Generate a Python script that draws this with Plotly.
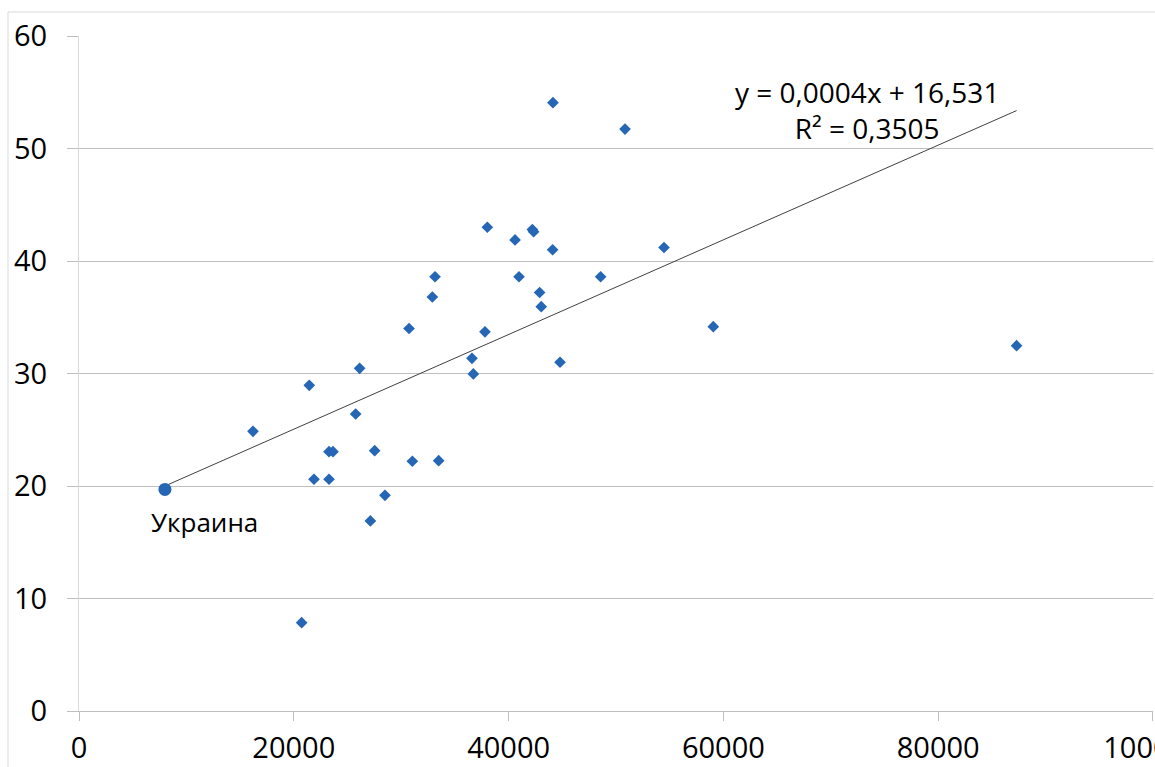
import plotly.graph_objects as go

# Data
countries_x = [16200, 21440, 21880, 23280, 23280, 23650, 20730, 25760, 26130, 27530,
               27130, 28490, 30730, 31040, 32900, 33150, 33490, 36590, 36720, 37800,
               38020, 40600, 40970, 42210, 42330, 42890, 43040, 44100, 44130, 44790,
               48570, 50840, 54470, 59060, 87300]
countries_y = [24.86, 28.95, 20.6, 20.6, 23.05, 23.05, 7.85, 26.4, 30.46, 23.14,
               16.9, 19.17, 34.0, 22.2, 36.8, 38.6, 22.25, 31.35, 29.96, 33.7,
               43.0, 41.87, 38.6, 42.8, 42.6, 37.2, 35.94, 41.0, 54.07, 31.0,
               38.6, 51.73, 41.2, 34.16, 32.47]
ukraine_x = [8000]
ukraine_y = [19.7]
ukraine_label = "Украина"
trend_x = [8000, 87300]
trend_y = [20.0, 53.37]
trend_text = "y = 0,0004x + 16,531<br>R² = 0,3505"
x_ticks = [0, 20000, 40000, 60000, 80000, 100000]
y_ticks = [0, 10, 20, 30, 40, 50, 60]

FONT = "Open Sans"
BLUE = "#2566b5"
GRID = "#bfbfbf"

fig = go.Figure()
fig.add_trace(go.Scatter(x=trend_x, y=trend_y, mode="lines",
                         line=dict(color="#404040", width=1), hoverinfo="skip"))
fig.add_trace(go.Scatter(x=countries_x, y=countries_y, mode="markers",
                         marker=dict(symbol="diamond", size=9, color=BLUE)))
fig.add_trace(go.Scatter(x=ukraine_x, y=ukraine_y, mode="markers",
                         marker=dict(symbol="circle", size=13, color=BLUE)))

fig.add_annotation(x=ukraine_x[0] + 3640, y=ukraine_y[0] - 2.9, text=ukraine_label,
                   showarrow=False, xanchor="center", yanchor="middle",
                   font=dict(family=FONT, size=26, color="#000000"))
fig.add_annotation(x=73370, y=53.4, text=trend_text, showarrow=False,
                   xanchor="center", yanchor="middle", align="center",
                   font=dict(family=FONT, size=28, color="#000000"))

# outer chart border (left and top edges visible in the crop)
fig.add_shape(type="path", xref="paper", yref="paper",
              path="M -0.0661 -0.2 L -0.0661 1.0356 L 1.05 1.0356",
              line=dict(color="#d9d9d9", width=1), layer="below")

fig.update_layout(
    width=1155, height=767,
    template="none",
    showlegend=False,
    paper_bgcolor="white", plot_bgcolor="white",
    margin=dict(l=79, r=2, t=36, b=56),
    font=dict(family=FONT, size=29, color="#000000"),
    xaxis=dict(range=[0, 100002], tickvals=x_ticks, ticktext=[str(v) for v in x_ticks],
               showgrid=False, zeroline=False, showline=True, linecolor=GRID, linewidth=1,
               ticks="outside", ticklen=9, tickcolor=GRID, tickwidth=1,
               ticklabeloverflow="allow", ticklabelstandoff=2,
               automargin=False, tickfont=dict(family=FONT, size=29)),
    yaxis=dict(range=[0, 60], tickvals=y_ticks, showgrid=True, gridcolor=GRID, gridwidth=1,
               zeroline=False, showline=True, linecolor="#d9d9d9", linewidth=1,
               ticks="outside", ticklen=11, tickcolor=GRID, tickwidth=1,
               ticklabelstandoff=14,
               automargin=False, tickfont=dict(family=FONT, size=29)),
)

fig.write_html("out.html")
